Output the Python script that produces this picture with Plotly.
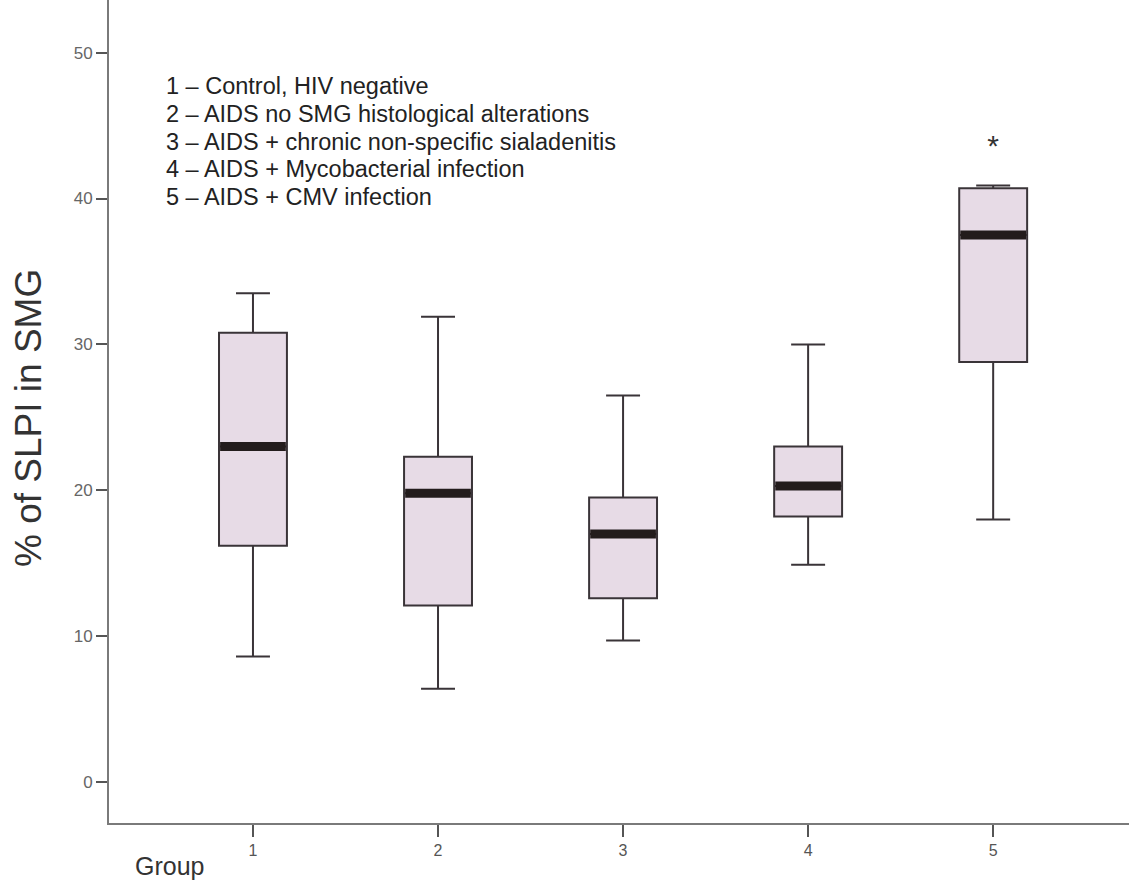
import plotly.graph_objects as go

# ---- data ----
groups = [1, 2, 3, 4, 5]
tick_labels = ["1", "2", "3", "4", "5"]
lower_whisker = [8.6, 6.4, 9.7, 14.9, 18.0]
q1_vals = [16.2, 12.1, 12.6, 18.2, 28.8]
median_vals = [23.0, 19.8, 17.0, 20.3, 37.5]
q3_vals = [30.8, 22.3, 19.5, 23.0, 40.7]
upper_whisker = [33.5, 31.9, 26.5, 30.0, 40.9]
extreme_x = [5]
extreme_y = [43.8]
legend_lines = [
    "1 \u2013 Control, HIV negative",
    "2 \u2013 AIDS no SMG histological alterations",
    "3 \u2013 AIDS + chronic non-specific sialadenitis",
    "4 \u2013 AIDS + Mycobacterial infection",
    "5 \u2013 AIDS + CMV infection",
]

# ---- style ----
BOX_W = 0.367
FILL = "#e7dbe6"
EDGE = "#3a3438"
FONT = "Liberation Sans, Arial, sans-serif"

W, H = 1129, 891
L, R, T, B = 109, 0, 0, 68
plot_h = H - T - B
plot_w = W - L - R

fig = go.Figure()

fig.add_trace(go.Box(
    x=groups,
    q1=q1_vals,
    median=median_vals,
    q3=q3_vals,
    lowerfence=lower_whisker,
    upperfence=upper_whisker,
    width=BOX_W,
    whiskerwidth=0.5,
    fillcolor=FILL,
    line=dict(color=EDGE, width=2),
    boxpoints=False,
    hoverinfo="skip",
    showlegend=False,
))

# thick median bars
mx, my = [], []
for g, m in zip(groups, median_vals):
    mx += [g - BOX_W / 2 + 0.006, g + BOX_W / 2 - 0.006, None]
    my += [m, m, None]
fig.add_trace(go.Scatter(
    x=mx, y=my, mode="lines",
    line=dict(color="#231c1c", width=9),
    hoverinfo="skip", showlegend=False,
))

# extreme value marker (text glyph sits high in its box; nudge anchor down)
fig.add_trace(go.Scatter(
    x=extreme_x, y=[v - 0.35 for v in extreme_y], mode="text",
    text=["*"] * len(extreme_x),
    textposition="middle center",
    textfont=dict(family=FONT, size=30, color="#333333"),
    hoverinfo="skip", showlegend=False,
))

annotations = []
line_px = [86, 114, 142, 169, 197]
for txt, py in zip(legend_lines, line_px):
    annotations.append(dict(
        text=txt, xref="paper", yref="paper",
        x=(164 - L) / plot_w, y=1 - (py - T) / plot_h,
        xanchor="left", yanchor="middle", showarrow=False,
        font=dict(family=FONT, size=23.5, color="#222222"),
    ))

annotations.append(dict(
    text="Group", xref="paper", yref="paper",
    x=(133 - L) / plot_w, y=1 - (866 - T) / plot_h,
    xanchor="left", yanchor="middle", showarrow=False,
    font=dict(family=FONT, size=25, color="#333333"),
))
annotations.append(dict(
    text="% of SLPI in SMG", xref="paper", yref="paper",
    x=(28 - L) / plot_w, y=1 - (418 - T) / plot_h,
    xanchor="center", yanchor="middle", showarrow=False, textangle=-90,
    font=dict(family=FONT, size=37, color="#333333"),
))

fig.update_layout(
    width=W, height=H,
    margin=dict(l=L, r=R, t=T, b=B),
    paper_bgcolor="white", plot_bgcolor="white",
    annotations=annotations,
    xaxis=dict(
        range=[0.222, 5.734],
        tickmode="array", tickvals=groups, ticktext=tick_labels,
        ticks="outside", ticklen=12, tickwidth=1.5, tickcolor="#555555",
        showline=True, linecolor="#7a7a7a", linewidth=2,
        showgrid=False, zeroline=False,
        tickfont=dict(family=FONT, size=16, color="#555555"),
    ),
    yaxis=dict(
        range=[-2.81, 53.61],
        tickvals=[0, 10, 20, 30, 40, 50],
        ticks="outside", ticklen=11, tickwidth=2, tickcolor="#555555",
        showline=True, linecolor="#7a7a7a", linewidth=2,
        showgrid=False, zeroline=False,
        tickfont=dict(family=FONT, size=17, color="#666666"),
    ),
)

fig.write_html(
    "out.html",
    config={"displayModeBar": False},
    post_script="document.body.style.margin='0';document.body.style.overflow='hidden';",
)
